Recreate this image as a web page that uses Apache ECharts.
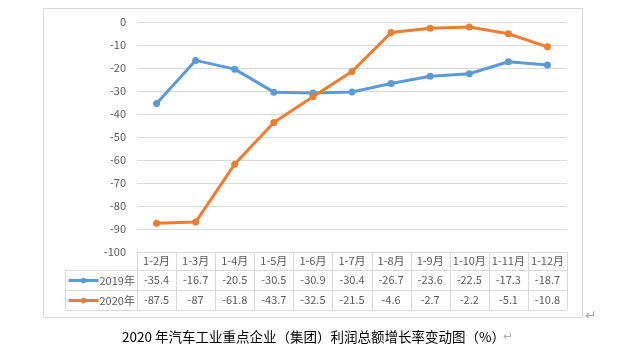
<!DOCTYPE html>
<html><head><meta charset="utf-8">
<script src="https://cdn.jsdelivr.net/npm/echarts@6/dist/echarts.min.js"></script>
<style>html,body{margin:0;padding:0;background:#fff}#c{width:640px;height:356px}</style>
</head><body><div id="c"></div>
<script>
const categories = ['1-2月','1-3月','1-4月','1-5月','1-6月','1-7月','1-8月','1-9月','1-10月','1-11月','1-12月'];
const seriesNames = ['2019年','2020年'];
const values2019 = [-35.4,-16.7,-20.5,-30.5,-30.9,-30.4,-26.7,-23.6,-22.5,-17.3,-18.7];
const values2020 = [-87.5,-87,-61.8,-43.7,-32.5,-21.5,-4.6,-2.7,-2.2,-5.1,-10.8];
const yTicks = {min:-100, max:0, interval:10};
const caption = '2020 年汽车工业重点企业（集团）利润总额增长率变动图（%）';

const FONT = '"Noto Sans CJK SC", "Microsoft YaHei", sans-serif';
const TXT = '#595959';
const LINE = '#d9d9d9';
const G = {left:137, right:567, top:22, bottom:252};
const rowY = [252, 270, 290, 310];
const colW = (G.right - G.left) / categories.length;

const graphics = [];
graphics.push({type:'rect', shape:{x:43.5,y:8.5,width:539,height:309}, style:{fill:null, stroke:LINE, lineWidth:1}, silent:true});
graphics.push({type:'line', shape:{x1:G.left,y1:rowY[0]+0.5,x2:G.right,y2:rowY[0]+0.5}, style:{stroke:LINE,lineWidth:1}});
for (let i=1;i<rowY.length;i++){
  graphics.push({type:'line', shape:{x1:65,y1:rowY[i]+0.5,x2:G.right,y2:rowY[i]+0.5}, style:{stroke:LINE,lineWidth:1}});
}
graphics.push({type:'line', shape:{x1:65.5,y1:rowY[1],x2:65.5,y2:rowY[3]}, style:{stroke:LINE,lineWidth:1}});
for (let k=0;k<=categories.length;k++){
  const x = Math.round(G.left + k*colW)+0.5;
  graphics.push({type:'line', shape:{x1:x,y1:rowY[0],x2:x,y2:rowY[3]}, style:{stroke:LINE,lineWidth:1}});
}
graphics.push({type:'text', left:122, top:330, style:{text:caption, font:'13.5px '+FONT, fill:'#000'}});
graphics.push({type:'text', left:503, top:331, style:{text:'↵', font:'12px "DejaVu Sans"', fill:'#aaa'}});
graphics.push({type:'text', left:585, top:309, style:{text:'↵', font:'14px "DejaVu Sans"', fill:'#aaa'}});

function rowAxis(offset, fmt){
  return {type:'category', data:categories, gridIndex:0, position:'bottom', offset:offset,
    axisLine:{show:false}, axisTick:{show:false},
    axisLabel:{interval:0, color:TXT, fontSize:11, fontFamily:FONT, margin:9, verticalAlign:'middle', formatter:fmt}};
}
function legendRow(name, top){
  return {left:67, top:top, padding:0, itemWidth:30, itemHeight:7,
    lineStyle:{width:3},
    textStyle:{color:TXT, fontSize:11, fontFamily:FONT, padding:[0,0,0,-4]},
    data:[name]};
}

const option = {
  animation:false,
  textStyle:{fontFamily:FONT},
  grid:{left:G.left, right:640-G.right, top:G.top, bottom:356-G.bottom, containLabel:false},
  legend:[legendRow(seriesNames[0], 275), legendRow(seriesNames[1], 295)],
  xAxis:[
    rowAxis(0, (v)=>v),
    rowAxis(19, (v,i)=>String(values2019[i])),
    rowAxis(39, (v,i)=>String(values2020[i]))
  ],
  yAxis:{type:'value', min:yTicks.min, max:yTicks.max, interval:yTicks.interval,
    axisLine:{show:false}, axisTick:{show:false},
    axisLabel:{color:TXT, fontSize:11, fontFamily:FONT, margin:11},
    splitLine:{lineStyle:{color:LINE, width:1}}},
  series:[
    {name:seriesNames[0], type:'line', data:values2019, xAxisIndex:0, symbol:'circle', symbolSize:7,
      lineStyle:{color:'#5b9bd5', width:3}, itemStyle:{color:'#5b9bd5'}},
    {name:seriesNames[1], type:'line', data:values2020, xAxisIndex:0, symbol:'circle', symbolSize:7,
      lineStyle:{color:'#ed7d31', width:3}, itemStyle:{color:'#ed7d31'}}
  ],
  graphic:graphics
};
const chart = echarts.init(document.getElementById('c'), null, {renderer:'canvas'});
chart.setOption(option);
</script></body></html>
